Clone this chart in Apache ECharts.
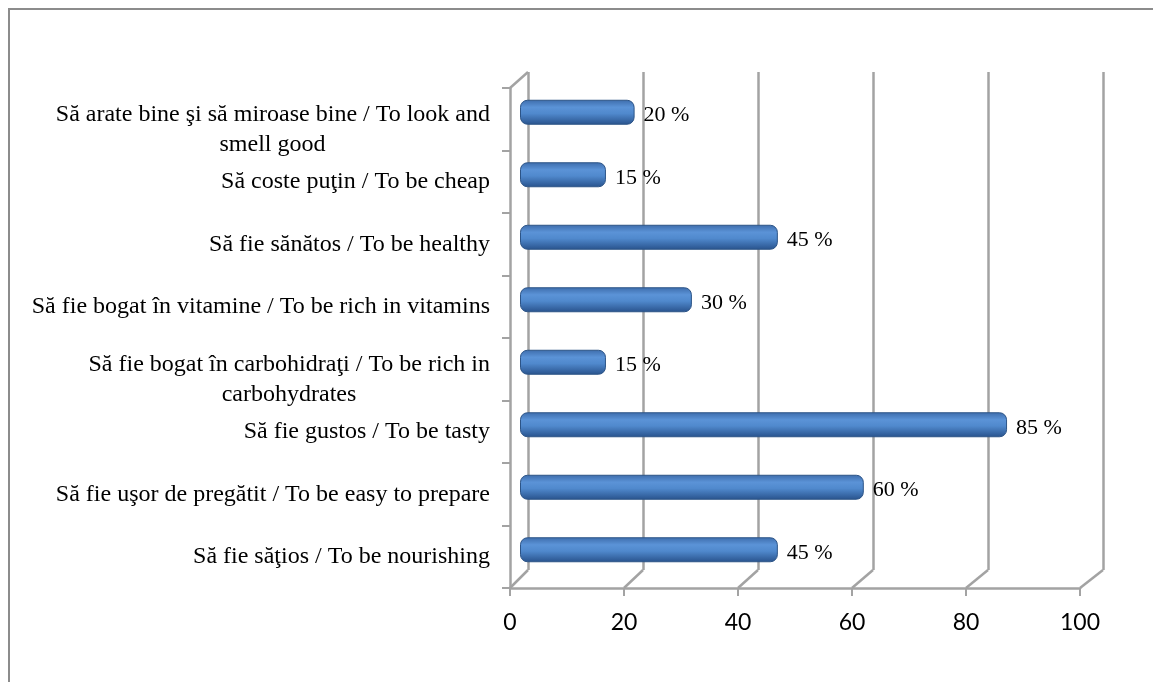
<!DOCTYPE html>
<html>
<head>
<meta charset="utf-8">
<script src="https://cdn.jsdelivr.net/npm/echarts@6/dist/echarts.min.js"></script>
<style>
  html, body { margin: 0; padding: 0; background: #fff; }
  #chart { width: 1153px; height: 682px; }
</style>
</head>
<body>
<div id="chart"></div>
<script>
// ---- data ----
const categoryLines = [
  ["Să arate bine şi să miroase bine / To look and", "smell good"],
  ["Să coste puţin / To be cheap"],
  ["Să fie sănătos / To be healthy"],
  ["Să fie bogat în vitamine / To be rich in vitamins"],
  ["Să fie bogat în carbohidraţi / To be rich in", "carbohydrates"],
  ["Să fie gustos / To be tasty"],
  ["Să fie uşor de pregătit / To be easy to prepare"],
  ["Să fie săţios / To be nourishing"]
];
const values = [20, 15, 45, 30, 15, 85, 60, 45];
const xTicks = [0, 20, 40, 60, 80, 100];
const categories = categoryLines.map(l => l.join(" "));

// ---- layout ----
const W = 1153, H = 682;
const FRONT = { left: 510, top: 88, width: 570, height: 500 };
const BACK  = { left: 528, top: 72, width: 575, height: 498 };
const MID   = { left: 520, top: 81, width: 573, height: 500 };
const FRAME = '#a3a3a3';
const LABEL_FONT = 24;

const measureCtx = document.createElement('canvas').getContext('2d');
measureCtx.font = LABEL_FONT + 'px "Liberation Serif"';
const labelMap = {};
const rich = {
  s: { fontFamily: 'Liberation Serif', fontSize: LABEL_FONT, color: '#000', lineHeight: 28 },
  t: { fontFamily: 'Liberation Serif', fontSize: LABEL_FONT, color: '#000', lineHeight: 50 }
};
categoryLines.forEach((lines, i) => {
  if (lines.length === 1) {
    labelMap[categories[i]] = '{s|' + lines[0] + '}';
  } else {
    const w = Math.ceil(measureCtx.measureText(lines[0]).width);
    labelMap[categories[i]] = '{t|' + lines[0] + '}\n{c' + i + '|' + lines[1] + '}';
    rich['c' + i] = { fontFamily: 'Liberation Serif', fontSize: LABEL_FONT, color: '#000',
                      lineHeight: 10, width: w, align: 'center' };
  }
});

const barColor = new echarts.graphic.LinearGradient(0, 0, 0, 1, [
  { offset: 0, color: '#3d6cab' },
  { offset: 0.3, color: '#5b93d7' },
  { offset: 0.55, color: '#5089cd' },
  { offset: 1, color: '#28528c' }
]);

const chart = echarts.init(document.getElementById('chart'), null, { renderer: 'canvas' });
const option = {
  animation: false,
  backgroundColor: '#fff',
  grid: [
    { left: BACK.left, top: BACK.top, width: BACK.width, height: BACK.height, containLabel: false },
    { left: FRONT.left, top: FRONT.top, width: FRONT.width, height: FRONT.height, containLabel: false },
    { left: MID.left, top: MID.top, width: MID.width, height: MID.height, containLabel: false }
  ],
  xAxis: [
    { gridIndex: 0, type: 'value', min: 0, max: 100, interval: 20,
      axisLine: { show: false }, axisTick: { show: false }, axisLabel: { show: false },
      splitLine: { show: true, lineStyle: { color: FRAME, width: 2.5 } } },
    { gridIndex: 1, type: 'value', min: 0, max: 100, interval: 20,
      axisLine: { show: true, lineStyle: { color: FRAME, width: 2.5 } },
      axisTick: { show: true, length: 8, lineStyle: { color: FRAME, width: 2 } },
      axisLabel: { show: true, margin: 23, fontFamily: 'Lato', fontSize: 23, color: '#000' },
      splitLine: { show: false } },
    { gridIndex: 2, type: 'value', min: 0, max: 100, interval: 20, show: false }
  ],
  yAxis: [
    { gridIndex: 0, type: 'category', data: categories, inverse: true, show: false },
    { gridIndex: 1, type: 'category', data: categories, inverse: true,
      axisLine: { show: true, lineStyle: { color: FRAME, width: 2.5 } },
      axisTick: { show: true, length: 8, lineStyle: { color: FRAME, width: 2 } },
      axisLabel: { show: true, margin: 20, align: 'right',
                   formatter: v => labelMap[v], rich: rich } },
    { gridIndex: 2, type: 'category', data: categories, inverse: true, show: false }
  ],
  series: [{
    type: 'bar',
    xAxisIndex: 2, yAxisIndex: 2,
    data: values,
    barWidth: 25,
    itemStyle: { color: barColor, borderColor: '#2c5487', borderWidth: 1, borderRadius: 7 },
    label: { show: true, position: 'right', distance: 9, offset: [0, 3],
             formatter: p => p.value + ' %',
             fontFamily: 'Liberation Serif', fontSize: 22, color: '#000' }
  }]
};
chart.setOption(option);

// 3D frame decorations derived from the axes
const graphics = [
  { type: 'rect', shape: { x: 9, y: 9, width: W + 20, height: H + 20 },
    style: { fill: null, stroke: '#8c8c8c', lineWidth: 2 }, silent: true, z: 100 }
];
const frontBottom = FRONT.top + FRONT.height;
const backBottom = BACK.top + BACK.height;
xTicks.forEach(v => {
  const fx = chart.convertToPixel({ xAxisIndex: 1 }, v);
  const bx = chart.convertToPixel({ xAxisIndex: 0 }, v);
  graphics.push({ type: 'line', shape: { x1: fx, y1: frontBottom, x2: bx, y2: backBottom },
                  style: { stroke: FRAME, lineWidth: 2.5 }, silent: true, z: 0 });
});
graphics.push({ type: 'line',
  shape: { x1: chart.convertToPixel({ xAxisIndex: 1 }, 0), y1: FRONT.top,
           x2: chart.convertToPixel({ xAxisIndex: 0 }, 0), y2: BACK.top },
  style: { stroke: FRAME, lineWidth: 2.5 }, silent: true, z: 0 });
chart.setOption({ graphic: graphics });
</script>
</body>
</html>
